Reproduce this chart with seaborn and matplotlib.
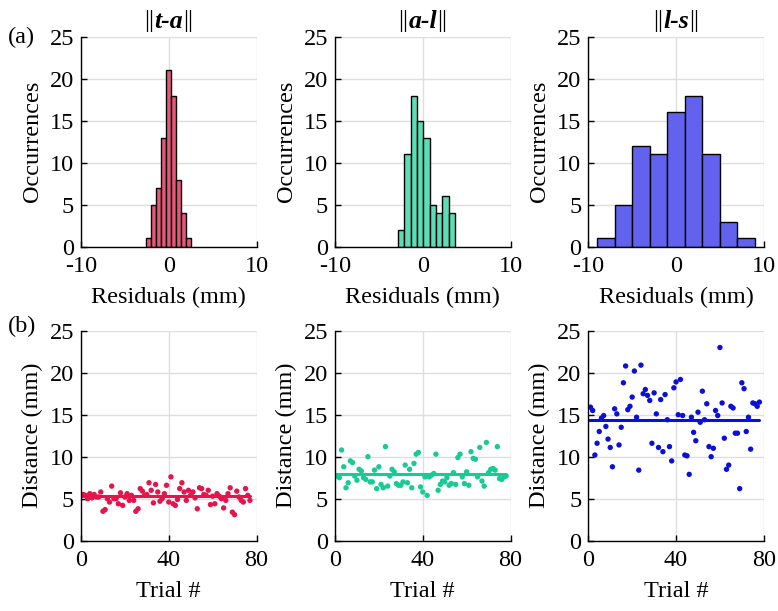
import numpy as np
import pandas as pd
import matplotlib
matplotlib.use("Agg")
import matplotlib.pyplot as plt
import seaborn as sns
from matplotlib.offsetbox import TextArea, HPacker, AnchoredOffsetbox

# ---------------- data ----------------
titles = ["t-a", "a-l", "l-s"]

# histogram bins (left edges, bin width) and counts
hist_edges_ta = [-2.58 + 0.568 * i for i in range(10)]
hist_counts_ta = [1, 5, 7, 13, 21, 18, 8, 4, 1]

hist_edges_al = [-2.82 + 0.724 * i for i in range(10)]
hist_counts_al = [2, 11, 18, 15, 13, 5, 4, 6, 4]

hist_edges_ls = [-9, -7, -5, -3, -1, 1, 3, 5, 7, 9]
hist_counts_ls = [1, 5, 12, 11, 16, 18, 11, 3, 1]

# per-trial distances (mm)
dist_ta = [5.5, 5.4, 5.0, 5.6, 5.1, 5.5, 5.2, 5.2, 5.8, 3.5, 3.7, 5.0, 4.6, 6.5, 5.0,
           5.0, 4.4, 5.7, 4.2, 5.2, 5.6, 4.8, 5.4, 4.8, 3.5, 3.8, 6.2, 5.9, 5.4, 5.5,
           6.9, 6.0, 4.5, 6.7, 5.8, 4.7, 5.0, 5.6, 6.6, 4.6, 7.6, 4.4, 4.2, 4.9, 6.2,
           6.9, 5.8, 4.8, 6.0, 5.4, 5.8, 5.1, 3.8, 6.3, 6.2, 5.5, 5.4, 6.0, 4.3, 5.3,
           4.4, 5.6, 5.3, 5.0, 3.9, 4.8, 5.6, 6.3, 3.4, 3.1, 5.9, 5.2, 4.8, 4.6, 6.2,
           5.4, 4.8]
dist_al = [7.7, 7.5, 10.8, 8.8, 6.3, 6.9, 9.5, 9.3, 7.7, 7.2, 8.5, 8.3, 7.5, 7.3, 10.0,
           7.0, 7.0, 8.4, 6.2, 8.8, 6.7, 6.3, 11.2, 6.5, 7.7, 8.5, 8.2, 6.8, 6.6, 6.6,
           7.0, 9.0, 6.9, 8.5, 6.3, 9.2, 10.3, 10.5, 6.4, 5.8, 7.6, 5.4, 7.6, 7.8, 8.0,
           10.3, 6.0, 6.7, 7.1, 7.0, 7.5, 6.6, 6.8, 8.1, 6.7, 9.9, 10.3, 7.6, 6.8, 8.2,
           6.6, 10.6, 9.8, 9.7, 7.6, 11.1, 7.1, 6.5, 11.7, 8.1, 8.5, 8.6, 8.4, 11.2, 7.4,
           7.3, 7.6, 7.7]
dist_ls = [15.9, 15.5, 10.2, 11.6, 13.0, 14.6, 14.9, 13.6, 12.1, 11.1, 8.8, 15.7, 15.1,
           11.4, 13.5, 18.8, 20.8, 15.6, 16.0, 17.1, 20.2, 14.7, 8.4, 20.9, 17.5, 18.0,
           17.3, 16.7, 11.6, 17.6, 15.1, 11.1, 16.8, 10.6, 17.4, 14.4, 11.2, 9.5, 18.2,
           18.9, 15.0, 19.2, 14.9, 10.2, 10.1, 7.9, 14.7, 12.9, 11.9, 15.3, 14.1, 17.8,
           14.4, 16.3, 11.2, 10.0, 11.0, 15.5, 14.9, 23.0, 16.4, 12.2, 8.5, 9.0, 16.0,
           15.8, 12.8, 12.8, 6.2, 18.8, 18.1, 13.0, 14.7, 10.9, 16.4, 16.3, 16.0, 16.5]
mean_dist = [5.3, 8.0, 14.4]

hist_colors = ["#E6587A", "#5CDDB6", "#6262EE"]
dot_colors = ["#E5144B", "#17CB94", "#0A10D8"]

# ---------------- style ----------------
sns.set_theme(style="white")
plt.rcParams["font.family"] = ["Liberation Serif", "DejaVu Serif"]
plt.rcParams["axes.unicode_minus"] = False
FS = 17.5

fig = plt.figure(figsize=(7.78, 6.11), dpi=100)
W, H = 778.0, 611.0
lefts = [81, 335, 588.3]
aw = 175.5
top_row = (36.7, 246.7)
bot_row = (330.7, 540.7)

hists = [(hist_edges_ta, hist_counts_ta), (hist_edges_al, hist_counts_al),
         (hist_edges_ls, hist_counts_ls)]
dists = [dist_ta, dist_al, dist_ls]


def style_axes(ax):
    for s in ["top", "right"]:
        ax.spines[s].set_visible(False)
    for s in ["left", "bottom"]:
        ax.spines[s].set_color("black")
        ax.spines[s].set_linewidth(1.0)
    ax.grid(True, color="#dedede", linewidth=1.0)
    ax.set_axisbelow(True)
    ax.tick_params(direction="in", length=4, width=1, colors="black",
                   labelsize=FS, left=True, bottom=True)
    ax.tick_params(axis="x", pad=7)
    ax.tick_params(axis="y", pad=5)


for i in range(3):
    # ---- histogram ----
    ax = fig.add_axes([lefts[i] / W, 1 - top_row[1] / H, aw / W,
                       (top_row[1] - top_row[0]) / H])
    edges, counts = hists[i]
    centers = [(edges[k] + edges[k + 1]) / 2 for k in range(len(counts))]
    dfh = pd.DataFrame({"x": centers, "w": counts})
    sns.histplot(data=dfh, x="x", weights="w", bins=edges, ax=ax,
                 color=hist_colors[i], alpha=1.0, edgecolor="black",
                 linewidth=1.0)
    ax.set_xlim(-10, 10)
    ax.set_ylim(0, 25)
    ax.set_xticks([-10, 0, 10])
    ax.set_yticks([0, 5, 10, 15, 20, 25])
    ax.set_xlabel("Residuals (mm)", fontsize=FS, color="black", labelpad=7)
    ax.set_ylabel("Occurrences", fontsize=FS, color="black", labelpad=5)
    style_axes(ax)

    # title: ||x-y|| with bold italic letters
    parts = [TextArea("||", textprops=dict(fontsize=18.5, fontweight="normal",
                                           color="black", family="Liberation Serif")),
             TextArea(titles[i], textprops=dict(fontsize=18.5, fontweight="bold",
                                                fontstyle="italic", color="black",
                                                family="Liberation Serif")),
             TextArea("||", textprops=dict(fontsize=18.5, fontweight="normal",
                                           color="black", family="Liberation Serif"))]
    box = HPacker(children=parts, align="baseline", pad=0, sep=0)
    anchored = AnchoredOffsetbox(loc="lower center", child=box, pad=0,
                                 borderpad=0, frameon=False,
                                 bbox_to_anchor=(0.5, 1.02),
                                 bbox_transform=ax.transAxes)
    ax.add_artist(anchored)

    # ---- scatter ----
    ax2 = fig.add_axes([lefts[i] / W, 1 - bot_row[1] / H, aw / W,
                        (bot_row[1] - bot_row[0]) / H])
    d = dists[i]
    dfs = pd.DataFrame({"trial": np.arange(1, len(d) + 1), "dist": d})
    sns.scatterplot(data=dfs, x="trial", y="dist", ax=ax2, color=dot_colors[i],
                    s=15, edgecolor="none", linewidth=0)
    dfm = pd.DataFrame({"trial": [0, len(d)], "dist": [mean_dist[i], mean_dist[i]]})
    sns.lineplot(data=dfm, x="trial", y="dist", ax=ax2, color=dot_colors[i],
                 linewidth=2.2)
    ax2.set_xlim(0, 80)
    ax2.set_ylim(0, 25)
    ax2.set_xticks([0, 40, 80])
    ax2.set_yticks([0, 5, 10, 15, 20, 25])
    ax2.set_xlabel("Trial #", fontsize=FS, color="black", labelpad=7)
    ax2.set_ylabel("Distance (mm)", fontsize=FS, color="black", labelpad=5)
    style_axes(ax2)

fig.text(8 / W, 1 - 37 / H, "(a)", fontsize=FS, color="black", va="center", ha="left")
fig.text(8 / W, 1 - 326 / H, "(b)", fontsize=FS, color="black", va="center", ha="left")

fig.savefig("out.png", dpi=100)
